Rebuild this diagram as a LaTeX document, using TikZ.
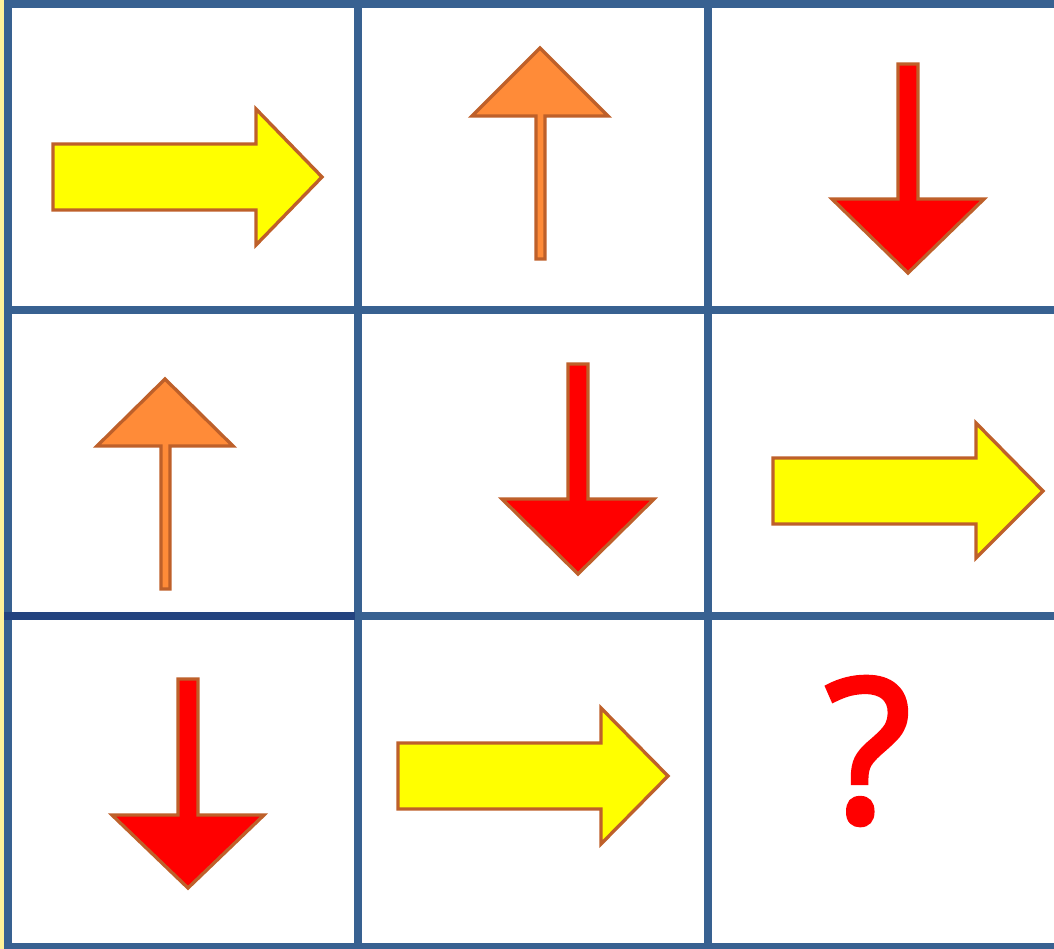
\documentclass[tikz,border=0pt]{standalone}
\usepackage{xcolor}
\usepackage{tikz}
\usepackage{fontspec}
\newfontfamily\qfont[FakeBold=2.5]{Open Sans}
\definecolor{gridblue}{RGB}{56,97,145}
\definecolor{griddark}{RGB}{35,67,127}
\definecolor{edgeyellow}{RGB}{255,242,154}
\definecolor{arrowedge}{RGB}{190,96,42}
\definecolor{arroworange}{RGB}{255,139,56}
\definecolor{arrowyellow}{RGB}{255,255,0}
\definecolor{arrowred}{RGB}{255,0,0}

\begin{document}
\begin{tikzpicture}[x=0.75pt, y=-0.75pt,
    gridline/.style={line width=5.6pt, gridblue},
    rightarr/.style={fill=arrowyellow, draw=arrowedge, line width=2.5pt},
    uparr/.style={fill=arroworange, draw=arrowedge, line width=2.5pt},
    downarr/.style={fill=arrowred, draw=arrowedge, line width=2.5pt}]
    \useasboundingbox (0,0) rectangle (1054,949);
    \fill[edgeyellow] (0,0) rectangle (4,949);
    % grid
    \draw[gridline] (8,0) -- (8,949);
    \draw[gridline] (358,0) -- (358,949);
    \draw[gridline] (708,0) -- (708,949);
    \draw[gridline] (4,4) -- (1054,4);
    \draw[gridline] (4,310) -- (1054,310);
    \draw[gridline] (355,616) -- (1054,616);
    \draw[gridline, griddark] (4,616) -- (355,616);
    \draw[gridline] (4,947) -- (1054,947);
    % row 1
    \draw[rightarr] (53,144) -- (256,144) -- (256,109) -- (322,177) -- (256,245)
      -- (256,210) -- (53,210) -- cycle;
    \draw[uparr] (540,48) -- (608,116) -- (545,116) -- (545,259) -- (536,259)
      -- (536,116) -- (472,116) -- cycle;
    \draw[downarr] (898,64) -- (918,64) -- (918,199) -- (984,199) -- (908,273)
      -- (832,199) -- (898,199) -- cycle;
    % row 2
    \draw[uparr] (165,379) -- (233,446) -- (170,446) -- (170,589) -- (161,589)
      -- (161,446) -- (97,446) -- cycle;
    \draw[downarr] (568,364) -- (588,364) -- (588,499) -- (654,499) -- (578,574)
      -- (502,499) -- (568,499) -- cycle;
    \draw[rightarr] (773,458) -- (976,458) -- (976,423) -- (1043,491) -- (976,558)
      -- (976,524) -- (773,524) -- cycle;
    % row 3
    \draw[downarr] (178,679) -- (198,679) -- (198,815) -- (264,815) -- (188,888)
      -- (112,815) -- (178,815) -- cycle;
    \draw[rightarr] (398,743) -- (601,743) -- (601,708) -- (668,776) -- (601,844)
      -- (601,809) -- (398,809) -- cycle;
    \node[anchor=base, inner sep=0pt, text=arrowred,
      font=\qfont\fontsize{150}{150}\selectfont] (qmark) at (868,822) {?};
\end{tikzpicture}
\end{document}
